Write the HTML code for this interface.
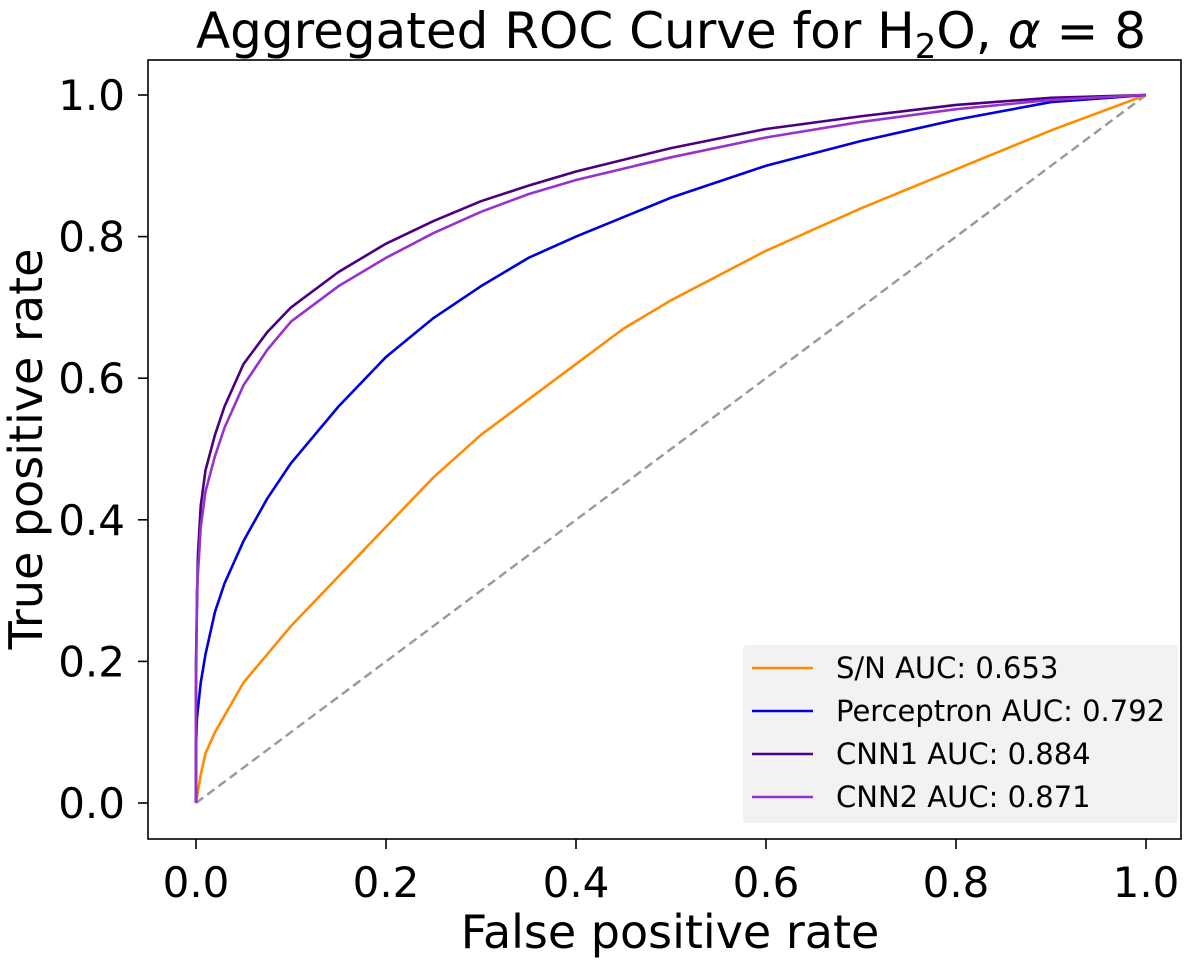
<!DOCTYPE html>
<html><head><meta charset="utf-8"><style>
body{margin:0;background:#fff;}
svg{display:block;font-family:"DejaVu Sans","Liberation Sans",sans-serif;}
</style></head><body>
<svg id="chart" width="1200" height="962">
<text x="671" y="48" font-size="50" text-anchor="middle">Aggregated ROC Curve for H<tspan font-size="34" dy="10">2</tspan><tspan dy="-10">O, </tspan><tspan font-style="italic">α</tspan> = 8</text>
<rect x="148" y="60" width="1033" height="779" fill="none" stroke="#000" stroke-width="1.6"/>
<g id="ticks"></g>
<g id="series"></g>
<text x="670" y="948" font-size="46" text-anchor="middle">False positive rate</text>
<text transform="translate(42,449) rotate(-90)" font-size="46" text-anchor="middle">True positive rate</text>
<g>
<rect x="743" y="645" width="435" height="178" rx="3" fill="#f2f2f2"/>
<g id="legend-entries"></g>
</g>
</svg>
<script>
const ticks = [0, 0.2, 0.4, 0.6, 0.8, 1.0];
const tickLabels = ["0.0","0.2","0.4","0.6","0.8","1.0"];
const seriesNames = ["S/N AUC: 0.653","Perceptron AUC: 0.792","CNN1 AUC: 0.884","CNN2 AUC: 0.871"];
const seriesColors = ["#ff8c00","#0000dd","#4b0082","#9932cc"];
const snFpr = [0,0.005,0.01,0.02,0.05,0.1,0.15,0.2,0.25,0.3,0.35,0.4,0.45,0.5,0.6,0.7,0.8,0.9,1];
const snTpr = [0,0.04,0.07,0.1,0.17,0.25,0.32,0.39,0.46,0.52,0.57,0.62,0.67,0.71,0.78,0.84,0.895,0.95,1];
const percFpr = [0,0,0.001,0.005,0.01,0.02,0.03,0.05,0.075,0.1,0.15,0.2,0.25,0.3,0.35,0.4,0.5,0.6,0.7,0.8,0.9,1];
const percTpr = [0,0.08,0.12,0.17,0.21,0.27,0.31,0.37,0.43,0.48,0.56,0.63,0.685,0.73,0.77,0.80,0.855,0.90,0.935,0.965,0.99,1];
const cnn1Fpr = [0,0,0.002,0.005,0.01,0.02,0.03,0.05,0.075,0.1,0.15,0.2,0.25,0.3,0.35,0.4,0.5,0.6,0.7,0.8,0.9,1];
const cnn1Tpr = [0,0.2,0.35,0.42,0.47,0.52,0.56,0.62,0.665,0.70,0.75,0.79,0.822,0.85,0.872,0.892,0.925,0.952,0.97,0.986,0.996,1];
const cnn2Fpr = [0,0,0.001,0.005,0.01,0.02,0.03,0.05,0.075,0.1,0.15,0.2,0.25,0.3,0.35,0.4,0.5,0.6,0.7,0.8,0.9,1];
const cnn2Tpr = [0,0.15,0.3,0.39,0.44,0.49,0.53,0.59,0.64,0.68,0.73,0.77,0.805,0.835,0.86,0.88,0.912,0.94,0.962,0.98,0.993,1];

const NS="http://www.w3.org/2000/svg";
const xS = v => 196 + v*950;
const yS = v => 803 - v*708;
const tg = document.getElementById('ticks');
ticks.forEach((t,i)=>{
  const lx=document.createElementNS(NS,'line');
  lx.setAttribute('x1',xS(t));lx.setAttribute('x2',xS(t));lx.setAttribute('y1',839);lx.setAttribute('y2',849);lx.setAttribute('stroke','#000');lx.setAttribute('stroke-width','1.6');
  
  
  tg.appendChild(lx);
  const tx=document.createElementNS(NS,'text');
  tx.setAttribute('x',xS(t));tx.setAttribute('y',897);tx.setAttribute('font-size','42');tx.setAttribute('text-anchor','middle');
  tx.textContent=tickLabels[i];
  
  
  tg.appendChild(tx);
  const ly=document.createElementNS(NS,'line');
  ly.setAttribute('x1',138);ly.setAttribute('x2',148);ly.setAttribute('y1',yS(t));ly.setAttribute('y2',yS(t));ly.setAttribute('stroke','#000');ly.setAttribute('stroke-width','1.6');
  
  
  tg.appendChild(ly);
  const ty=document.createElementNS(NS,'text');
  ty.setAttribute('x',125);ty.setAttribute('y',yS(t)+15);ty.setAttribute('font-size','42');ty.setAttribute('text-anchor','end');
  ty.textContent=tickLabels[i];
  
  
  tg.appendChild(ty);
});
const sg=document.getElementById('series');
const diag=document.createElementNS(NS,'line');
diag.setAttribute('x1',xS(0));diag.setAttribute('y1',yS(0));diag.setAttribute('x2',xS(1));diag.setAttribute('y2',yS(1));
diag.setAttribute('stroke','#999');diag.setAttribute('stroke-width','2.4');diag.setAttribute('stroke-dasharray','9,5');


sg.appendChild(diag);
const all=[[snFpr,snTpr],[percFpr,percTpr],[cnn1Fpr,cnn1Tpr],[cnn2Fpr,cnn2Tpr]];
const names=['sn-curve','perceptron-curve','cnn1-curve','cnn2-curve'];
all.forEach((s,k)=>{
  const p=document.createElementNS(NS,'polyline');
  p.setAttribute('points',s[0].map((f,i)=>xS(f)+','+yS(s[1][i])).join(' '));
  p.setAttribute('fill','none');p.setAttribute('stroke',seriesColors[k]);p.setAttribute('stroke-width','2.6');p.setAttribute('stroke-linejoin','round');
  
  
  sg.appendChild(p);
});
const lg=document.getElementById('legend-entries');
seriesNames.forEach((n,k)=>{
  const y=668+k*43;
  const l=document.createElementNS(NS,'line');
  l.setAttribute('x1',752);l.setAttribute('x2',813);l.setAttribute('y1',y);l.setAttribute('y2',y);l.setAttribute('stroke',seriesColors[k]);l.setAttribute('stroke-width','2.6');
  
  
  lg.appendChild(l);
  const t=document.createElementNS(NS,'text');
  t.setAttribute('x',836);t.setAttribute('y',y+10);t.setAttribute('font-size','29');
  t.textContent=n;
  
  
  lg.appendChild(t);
});
</script>
</body></html>
